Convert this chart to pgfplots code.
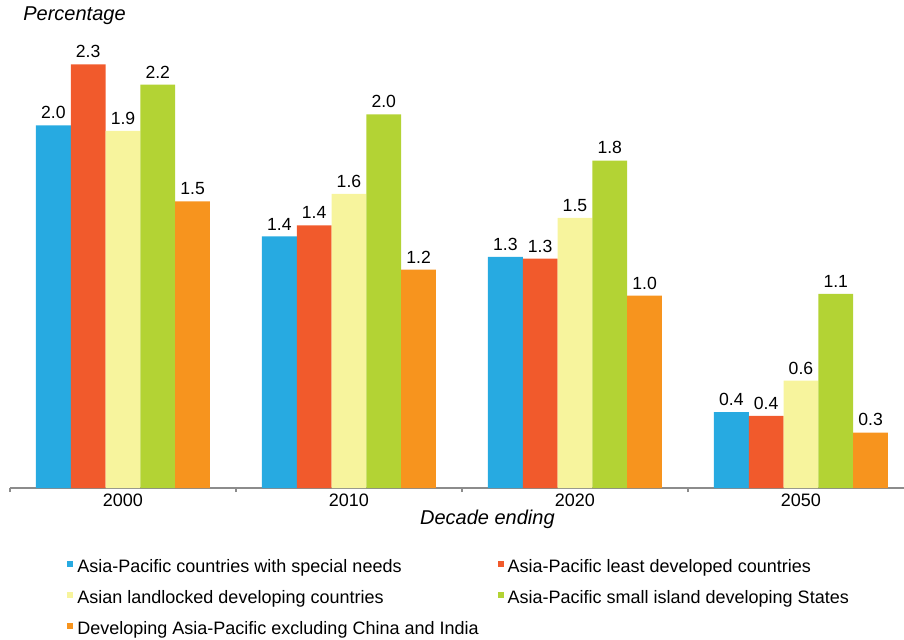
\documentclass[border=0pt]{standalone}
\usepackage{pgfplots}
\usepackage{pgfplotstable}
\pgfplotsset{compat=1.18}
\usepackage{fontspec}
\setmainfont{Liberation Sans}
\definecolor{cblue}{HTML}{27AAE1}
\definecolor{cred}{HTML}{F15A2C}
\definecolor{cyellow}{HTML}{F7F49D}
\definecolor{cgreen}{HTML}{B3D334}
\definecolor{corange}{HTML}{F7941E}
\definecolor{axgray}{HTML}{8C8C8C}

\pgfplotstableread{
x y l
0 1.96 2.0
1 1.36 1.4
2 1.25 1.3
3 0.41 0.4
}\tblA
\pgfplotstableread{
x y l
0 2.29 2.3
1 1.42 1.4
2 1.24 1.3
3 0.39 0.4
}\tblB
\pgfplotstableread{
x y l
0 1.93 1.9
1 1.59 1.6
2 1.46 1.5
3 0.58 0.6
}\tblC
\pgfplotstableread{
x y l
0 2.18 2.2
1 2.02 2.0
2 1.77 1.8
3 1.05 1.1
}\tblD
\pgfplotstableread{
x y l
0 1.55 1.5
1 1.18 1.2
2 1.04 1.0
3 0.30 0.3
}\tblE

\begin{document}
\fontsize{9}{11}\selectfont
\begin{tikzpicture}[x=1pt,y=1pt]
\path[use as bounding box] (0,0) rectangle (452,319.5);
\begin{axis}[
  at={(5pt,75.5pt)}, anchor=south west,
  scale only axis, width=447pt, height=231.25pt,
  xmin=-0.5, xmax=3.456, ymin=0, ymax=2.5,
  clip=false,
  axis x line*=bottom, axis y line*=left,
  y axis line style={draw=none},
  x axis line style={axgray, line width=0.7pt},
  ytick=\empty,
  xtick={0,1,2,3}, xticklabels={2000,2010,2020,2050},
  major tick length=0pt,
  extra x ticks={-0.5,0.5,1.5,2.5}, extra x tick labels={},
  extra x tick style={major tick length=2pt, tick align=outside, tick style={axgray, line width=0.6pt}},
  xticklabel style={font=\fontsize{9}{11}\selectfont, text=black},
  /pgf/number format/assume math mode=true,
  ybar=0pt, bar width=17.4pt,
  nodes near coords={\pgfmathprintnumber[fixed,fixed zerofill,precision=1]{\pgfplotspointmeta}},
  point meta=explicit,
  every node near coord/.append style={font=\fontsize{8.8}{10}\selectfont, text=black, inner sep=3pt},
  xlabel={Decade ending},
  xlabel style={at={(axis description cs:0.534,-0.078)}, anchor=base, font=\fontsize{10}{12}\selectfont\itshape},
  legend columns=2,
  legend cell align=left,
  legend image code/.code={\fill[#1] (0pt,0.3pt) rectangle (3pt,3.3pt);},
  legend style={draw=none, fill=none, at={(axis description cs:0.0638,-0.151)}, anchor=north west,
    inner sep=0pt, font=\fontsize{9}{11}\selectfont,
    nodes={inner sep=0pt, text height=7pt, text depth=2pt},
    row sep=6.5pt,
    /tikz/every odd column/.append style={column sep=2pt},
    /tikz/every even column/.append style={column sep=9.5pt}},
]
\addplot[fill=cblue, draw=none] table[x=x, y=y, meta=l]{\tblA};
\addplot[fill=cred, draw=none] table[x=x, y=y, meta=l]{\tblB};
\addplot[fill=cyellow, draw=none] table[x=x, y=y, meta=l]{\tblC};
\addplot[fill=cgreen, draw=none] table[x=x, y=y, meta=l]{\tblD};
\addplot[fill=corange, draw=none] table[x=x, y=y, meta=l]{\tblE};
\legend{Asia-Pacific countries with special needs, Asia-Pacific least developed countries, Asian landlocked developing countries, Asia-Pacific small island developing States, Developing Asia-Pacific excluding China and India}
\node[anchor=base west, font=\fontsize{10}{12}\selectfont\itshape, inner sep=0pt] at (axis description cs:0.0145,1.01) {Percentage};
\end{axis}
\end{tikzpicture}
\end{document}
